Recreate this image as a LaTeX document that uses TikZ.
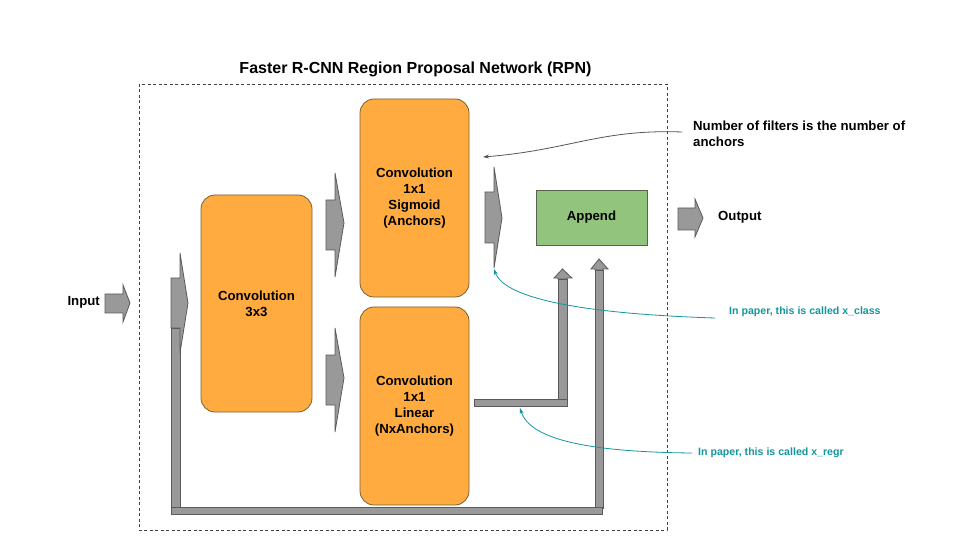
\documentclass[tikz,border=0pt]{standalone}
\usepackage{fontspec}
\setmainfont{Liberation Sans}
\usetikzlibrary{arrows.meta}
\definecolor{boxorange}{RGB}{255,171,64}
\definecolor{boxorangeline}{RGB}{125,95,55}
\definecolor{boxgreen}{RGB}{147,196,125}
\definecolor{boxgreenline}{RGB}{85,100,75}
\definecolor{arrowfill}{RGB}{153,153,153}
\definecolor{arrowline}{RGB}{90,90,90}
\definecolor{noteteal}{RGB}{20,150,158}
\definecolor{notegray}{RGB}{85,85,85}
\tikzset{
  lbl/.style={font=\bfseries\fontsize{13.2bp}{16bp}\selectfont, align=center, inner sep=0pt},
  convbox/.style={lbl, draw=boxorangeline, fill=boxorange, rounded corners=14bp, line width=0.8bp,
    minimum width=109bp},
  appendbox/.style={lbl, draw=boxgreenline, fill=boxgreen, line width=0.8bp,
    minimum width=111bp, minimum height=55bp},
  blockarrow/.style={draw=arrowline, fill=arrowfill, line width=0.8bp, line join=miter},
  tealtext/.style={font=\bfseries\fontsize{10.6bp}{13bp}\selectfont, text=noteteal, inner sep=0pt, anchor=west},
  tealarrow/.style={draw=noteteal, line width=0.8bp, -{Stealth[length=6bp,width=4bp]}},
  grayarrow/.style={draw=notegray, line width=0.8bp, -{Stealth[length=6bp,width=4bp]}},
  frame/.style={draw=black!75, line width=0.6bp, dash pattern=on 3bp off 2.5bp}
}
% right-pointing block arrow: x1 x2 x3 headtop bodytop bodybottom headbottom tip
\newcommand\rblock[8]{%
  \path[blockarrow] (#1,#5) -- (#2,#5) -- (#2,#4) -- (#3,#8) -- (#2,#7) -- (#2,#6) -- (#1,#6) -- cycle;}
% up-pointing block arrow: shaftleft shaftright headleft headright bottom headbase tip
\newcommand\ublock[7]{%
  \path[blockarrow] (#1,#5) -- (#1,#6) -- (#3,#6) -- ({(#1+#2)/2},#7) -- (#4,#6) -- (#2,#6) -- (#2,#5) -- cycle;}
\begin{document}
\begin{tikzpicture}[x=1bp, y=-1bp]
\useasboundingbox[fill=white] (0,0) rectangle (960,540);

% title and frame
\node[lbl, font=\bfseries\fontsize{16bp}{19bp}\selectfont] (title) at (415.5,69) {Faster R-CNN Region Proposal Network (RPN)};
\path[frame] (139,84) rectangle (667,530);

% input
\node[lbl, anchor=east] (input) at (100,302) {Input};
\rblock{105}{123}{130}{285}{294}{313}{322}{303}

% skip connection
\path[blockarrow] (171,328) rectangle (180,508);
\path[blockarrow] (595,270) rectangle (603,508);
\ublock{595}{603}{591}{608}{270}{269}{259}
\path[blockarrow] (171,507) rectangle (602,514);
\rblock{171}{180}{188}{253}{278}{328}{353}{303}

% boxes
\node[convbox, minimum width=111bp, minimum height=217bp] (conv3) at (256.5,303.5) {Convolution\\3x3};
\node[convbox, minimum height=198bp] (sig) at (414.5,198) {Convolution\\1x1\\Sigmoid\\(Anchors)};
\node[convbox, minimum height=198bp] (lin) at (414.5,406) {Convolution\\1x1\\Linear\\(NxAnchors)};
\node[appendbox] (append) at (591.5,217.5) {Append};

% block arrows between boxes
\rblock{326}{335}{344}{173}{200}{250}{277}{223}
\rblock{326}{335}{344}{328}{355}{405}{432}{378}
\rblock{485}{494}{502}{167}{192}{243}{268}{218}

% linear output to append
\path[blockarrow] (558,279) rectangle (567,404);
\ublock{558}{567}{554}{572}{279}{278}{269}
\path[blockarrow] (474,399) rectangle (567,406);

% output
\rblock{678}{695}{703}{199}{208}{230}{237}{218}
\node[lbl, anchor=west] (output) at (718,217) {Output};

% annotations
\node[lbl, align=left, anchor=west] (note) at (693,133.5) {Number of filters is the number of\\anchors};
\coordinate (noteStart) at (682,132);
\coordinate (noteEnd) at (483,157);
\draw[grayarrow] (noteStart) .. controls (600,129) and (570,150) .. (noteEnd);

\node[tealtext] (xclass) at (729,312) {In paper, this is called x\_class};
\coordinate (clsStart) at (715,318);
\coordinate (clsEnd) at (494,269);
\draw[tealarrow] (clsStart) .. controls (590,314) and (505,300) .. (clsEnd);

\node[tealtext] (xregr) at (698,453) {In paper, this is called x\_regr};
\coordinate (regStart) at (692,453);
\coordinate (regEnd) at (520,408);
\draw[tealarrow] (regStart) .. controls (590,452) and (530,440) .. (regEnd);
\end{tikzpicture}
\end{document}
